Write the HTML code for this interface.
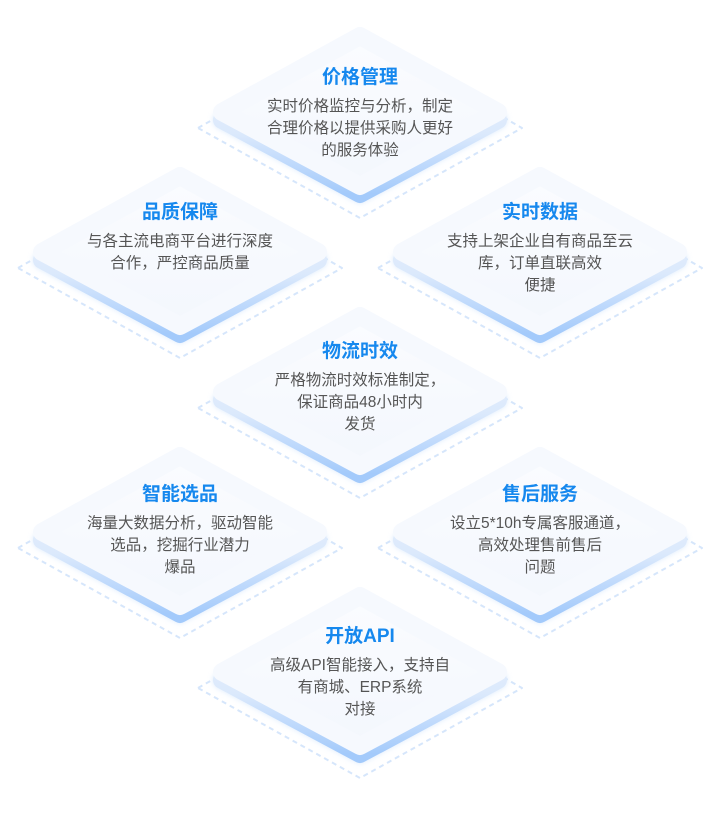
<!DOCTYPE html>
<html><head><meta charset="utf-8"><style>
html,body{margin:0;padding:0;background:#fff;width:720px;height:813px;overflow:hidden}
svg text{font-family:"Liberation Sans","Noto Sans CJK SC",sans-serif;text-anchor:middle}
.t{font-size:19px;font-weight:bold;fill:#1688ee}
.b{font-size:15.5px;fill:#555}
</style></head><body>
<svg width="720" height="813" viewBox="0 0 720 813" xmlns="http://www.w3.org/2000/svg">
<defs>
<linearGradient id="side" x1="0" y1="0" x2="0" y2="1">
<stop offset="0" stop-color="#eef4fd"/><stop offset="0.6" stop-color="#dbe9fc"/><stop offset="1" stop-color="#a3cafb"/>
</linearGradient>
<linearGradient id="top" x1="0" y1="0" x2="0" y2="1">
<stop offset="0" stop-color="#fbfcff"/><stop offset="1" stop-color="#f3f7fd"/>
</linearGradient>
<filter id="sh" x="-20%" y="-20%" width="140%" height="140%"><feGaussianBlur stdDeviation="3"/></filter>
<g id="d">
<polygon points="-162,16 0,-76 162,16 0,106" fill="none" stroke="#d6e6fb" stroke-width="2" stroke-dasharray="5,4" stroke-linejoin="round"/>
<polygon points="-138,8 0,-68 138,8 0,82" fill="#b9d7fb" stroke="#b9d7fb" stroke-width="18" stroke-linejoin="round" filter="url(#sh)" opacity="0.5"/>
<polygon points="-138,8 0,-68 138,8 0,82" fill="url(#side)" stroke="url(#side)" stroke-width="18" stroke-linejoin="round"/>
<polygon points="-138,0 0,-76 138,0 0,74" fill="url(#top)" stroke="#f6f9fe" stroke-width="18" stroke-linejoin="round"/>
</g>
</defs>
<use href="#d" x="360" y="112"/>
<use href="#d" x="180" y="252"/>
<use href="#d" x="540" y="252"/>
<use href="#d" x="360" y="392"/>
<use href="#d" x="180" y="532"/>
<use href="#d" x="540" y="532"/>
<use href="#d" x="360" y="672"/>

<text class="t" x="360" y="83">价格管理</text>
<text class="b" x="360" y="111">实时价格监控与分析，制定</text>
<text class="b" x="360" y="133">合理价格以提供采购人更好</text>
<text class="b" x="360" y="155">的服务体验</text>

<text class="t" x="180" y="218">品质保障</text>
<text class="b" x="180" y="246">与各主流电商平台进行深度</text>
<text class="b" x="180" y="268">合作，严控商品质量</text>

<text class="t" x="540" y="218">实时数据</text>
<text class="b" x="540" y="246">支持上架企业自有商品至云</text>
<text class="b" x="540" y="268">库，订单直联高效</text>
<text class="b" x="540" y="290">便捷</text>

<text class="t" x="360" y="357">物流时效</text>
<text class="b" x="360" y="385">严格物流时效标准制定，</text>
<text class="b" x="360" y="407">保证商品48小时内</text>
<text class="b" x="360" y="429">发货</text>

<text class="t" x="180" y="500">智能选品</text>
<text class="b" x="180" y="528">海量大数据分析，驱动智能</text>
<text class="b" x="180" y="550">选品，挖掘行业潜力</text>
<text class="b" x="180" y="572">爆品</text>

<text class="t" x="540" y="500">售后服务</text>
<text class="b" x="540" y="528">设立5*10h专属客服通道，</text>
<text class="b" x="540" y="550">高效处理售前售后</text>
<text class="b" x="540" y="572">问题</text>

<text class="t" x="360" y="642">开放API</text>
<text class="b" x="360" y="670">高级API智能接入，支持自</text>
<text class="b" x="360" y="692">有商城、ERP系统</text>
<text class="b" x="360" y="714">对接</text>
</svg>
</body></html>
